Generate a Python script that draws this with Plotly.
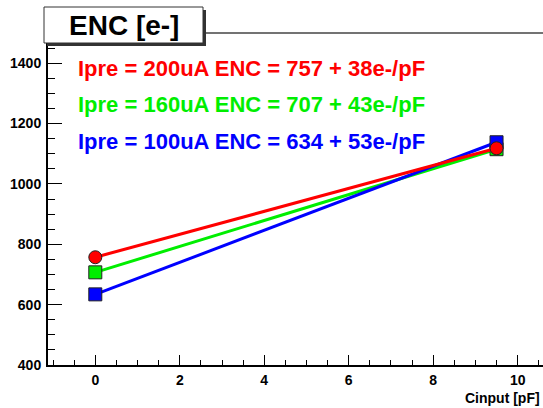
import plotly.graph_objects as go

# ---- data ----
cinput = [0.0, 9.5]
enc_200 = [757, 1118]
enc_160 = [707, 1115]
enc_100 = [634, 1138]
labels = [
    "Ipre = 200uA ENC = 757 + 38e-/pF",
    "Ipre = 160uA ENC = 707 + 43e-/pF",
    "Ipre = 100uA ENC = 634 + 53e-/pF",
]
colors = ["#ff0000", "#00ee00", "#0000ff"]
x_ticks = [0, 2, 4, 6, 8, 10]
y_ticks = [400, 600, 800, 1000, 1200, 1400]

W, H = 543, 408
L, R, T, B = 48, 0, 33, 43
PW, PH = W - L - R, H - T - B
FONT = "Liberation Sans, Arial, Helvetica, sans-serif"


def px(xp):
    return (xp - L) / PW


def py(yp):
    return (H - B - yp) / PH


fig = go.Figure()
series = [(enc_160, colors[1], "square"), (enc_100, colors[2], "square"), (enc_200, colors[0], "circle")]
for ys, c, sym in series:
    fig.add_trace(go.Scatter(
        x=cinput, y=ys, mode="lines+markers",
        line=dict(color=c, width=3),
        marker=dict(color=c, size=13, symbol=sym, line=dict(color="#222222", width=1)),
        showlegend=False, hoverinfo="skip", cliponaxis=False,
    ))

fig.update_layout(
    width=W, height=H,
    margin=dict(l=L, r=R, t=T, b=B, pad=0, autoexpand=False),
    paper_bgcolor="white", plot_bgcolor="white",
    font=dict(family=FONT, color="black"),
    xaxis=dict(
        range=[-1.12, 10.6], showgrid=False, zeroline=False, automargin=False,
        showline=True, linecolor="black", linewidth=2,
        ticks="inside", ticklen=10, tickwidth=1, tickcolor="black",
        tickvals=x_ticks, ticktext=[str(v) for v in x_ticks],
        tickfont=dict(family=FONT, size=14, weight="bold", color="black"),
        minor=dict(dtick=0.5, ticks="inside", ticklen=5, tickwidth=1, tickcolor="black"),
        ticklabelstandoff=1,
    ),
    yaxis=dict(
        range=[400, 1500], showgrid=False, zeroline=False, automargin=False,
        showline=True, linecolor="black", linewidth=2,
        ticks="inside", ticklen=14, tickwidth=1, tickcolor="black",
        tickvals=y_ticks, ticktext=[str(v) for v in y_ticks],
        tickfont=dict(family=FONT, size=14, weight="bold", color="black"),
        minor=dict(dtick=50, ticks="inside", ticklen=7, tickwidth=1, tickcolor="black"),
        ticklabelstandoff=2,
    ),
)

# top frame line
fig.add_shape(type="line", xref="paper", yref="paper", x0=0, x1=1, y0=1, y1=1,
              line=dict(color="#444444", width=1.5), layer="above")
# title box shadow and box
fig.add_shape(type="rect", xref="paper", yref="paper",
              x0=px(47), x1=px(206), y0=py(46), y1=py(10),
              fillcolor="#333333", line=dict(width=0), layer="above")
fig.add_shape(type="rect", xref="paper", yref="paper",
              x0=px(44), x1=px(203), y0=py(43), y1=py(7),
              fillcolor="white", line=dict(color="#333333", width=1), layer="above")
fig.add_annotation(text="ENC [e-]", xref="paper", yref="paper",
                   x=px(123.5), y=py(26), xanchor="center", yanchor="middle",
                   showarrow=False, font=dict(family=FONT, size=28, weight="bold", color="black"))

# legend-like texts
for i, (txt, c) in enumerate(zip(labels, colors)):
    fig.add_annotation(text=txt, xref="paper", yref="paper",
                       x=px(76), y=py(68 + 36.5 * i), xanchor="left", yanchor="middle",
                       showarrow=False, font=dict(family=FONT, size=22, weight="bold", color=c))

# x axis title
fig.add_annotation(text="Cinput [pF]", xref="paper", yref="paper",
                   x=px(542), y=py(398), xanchor="right", yanchor="middle",
                   showarrow=False, font=dict(family=FONT, size=14, weight="bold", color="black"))

fig.write_html(
    "out.html",
    config={"displayModeBar": False, "staticPlot": True},
    post_script="document.body.style.margin='0';document.body.style.overflow='hidden';",
)
